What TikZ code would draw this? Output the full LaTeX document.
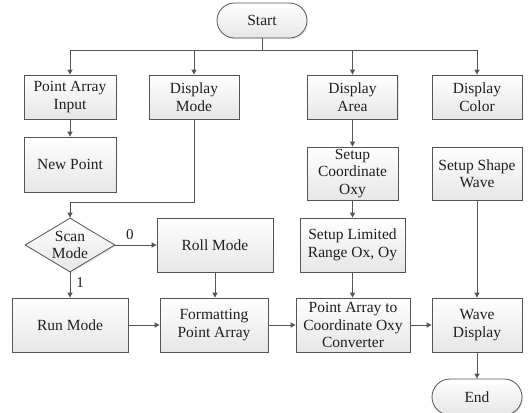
\documentclass[tikz,border=0pt]{standalone}
\usepackage{fontspec}
\setmainfont{Liberation Serif}
\usetikzlibrary{arrows.meta,shapes.geometric,shapes.misc,shadows}
\definecolor{linec}{HTML}{555555}
\definecolor{fillb}{HTML}{E6E6E6}
\tikzset{
  box/.style={draw=linec, line width=0.8pt, top color=white, bottom color=fillb,
    drop shadow={opacity=0.18, shadow xshift=1.2pt, shadow yshift=-1.2pt},
    align=center, inner sep=0pt, text=black!88,
    font=\fontsize{15.5}{17.5}\selectfont},
  term/.style={box, rounded rectangle},
  dia/.style={draw=linec, line width=0.8pt, top color=white, bottom color=fillb,
    drop shadow={opacity=0.18, shadow xshift=1.2pt, shadow yshift=-1.2pt},
    diamond, inner sep=0pt, shape aspect=1.67},
  txt/.style={align=center, inner sep=0pt, text=black!88, font=\fontsize{15.5}{17.5}\selectfont},
  conn/.style={draw=linec, line width=0.8pt},
  arr/.style={conn, -{Triangle[length=5pt,width=5pt]}},
  lbl/.style={inner sep=0pt, text=black!88, font=\fontsize{15}{17}\selectfont},
}
\begin{document}
\begin{tikzpicture}[x=1pt,y=-1pt]
\useasboundingbox (0,0) rectangle (532,412);
% row 0
\node[term, minimum width=90pt, minimum height=35pt] (start) at (262,20.5) {Start};
% row 1
\node[box, minimum width=92pt, minimum height=44pt] (pai) at (70,97) {Point Array\\Input};
\node[box, minimum width=90pt, minimum height=44pt] (dm) at (194,97) {Display\\Mode};
\node[box, minimum width=90pt, minimum height=44pt] (da) at (352.5,97) {Display\\Area};
\node[box, minimum width=90pt, minimum height=44pt] (dc) at (477,97) {Display\\Color};
% row 2
\node[box, minimum width=92pt, minimum height=55pt] (np) at (70,164.5) {New Point};
\node[box, minimum width=91pt, minimum height=53pt] (sco) at (352.5,173.5) {Setup\\Coordinate\\Oxy};
\node[box, minimum width=90pt, minimum height=53pt] (ssw) at (477,173.5) {Setup Shape\\Wave};
% row 3
\node[dia, minimum width=90pt, minimum height=54pt] (scan) at (70,245) {};
\node[txt] (scantxt) at (70,245) {Scan\\Mode};
\node[box, minimum width=116pt, minimum height=54pt] (roll) at (215,245) {Roll Mode};
\node[box, minimum width=105pt, minimum height=54pt] (slr) at (352.5,245) {Setup Limited\\Range Ox, Oy};
% row 4
\node[box, minimum width=116pt, minimum height=54pt] (run) at (70,325) {Run Mode};
\node[box, minimum width=108pt, minimum height=54pt] (fmt) at (214,325) {Formatting\\Point Array};
\node[box, minimum width=114pt, minimum height=54pt] (conv) at (353,325) {Point Array to\\Coordinate Oxy\\Converter};
\node[box, minimum width=90pt, minimum height=54pt] (wd) at (477,325) {Wave\\Display};
% end
\node[term, minimum width=90pt, minimum height=36pt] (end) at (477,397) {End};
% connectors
\coordinate (j) at (262,50);
\draw[conn] (start.south) -- (j);
\draw[arr] (j) -| (pai.north);
\draw[arr] (j) -| (dm.north);
\draw[arr] (j) -| (da.north);
\draw[arr] (j) -| (dc.north);
\draw[arr] (pai) -- (np);
\coordinate (k) at (194,202);
\draw[arr] (dm.south) -- (k) -| (scan.north);
\draw[arr] (da) -- (sco);
\draw[arr] (sco) -- (slr);
\draw[arr] (ssw) -- (wd);
\draw[arr] (scan.east) -- node[lbl, above=5pt, pos=0.35] {0} (roll.west);
\draw[arr] (scan.south) -- node[lbl, right=6pt, pos=0.4] {1} (run.north);
\draw[arr] (roll.south) -- (fmt.north -| roll.south);
\draw[arr] (slr.south) -- (conv.north -| slr.south);
\draw[arr] (run) -- (fmt);
\draw[arr] (fmt) -- (conv);
\draw[arr] (conv) -- (wd);
\draw[arr] (wd) -- (end);
\end{tikzpicture}
\end{document}
